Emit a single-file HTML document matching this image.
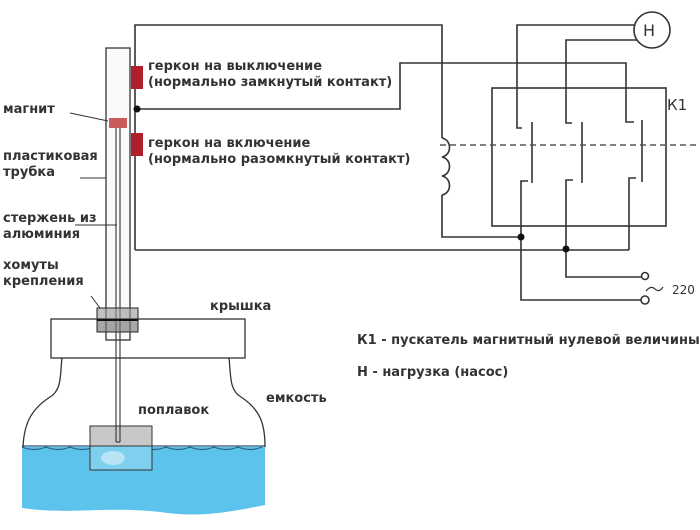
<!DOCTYPE html>
<html><head><meta charset="utf-8"><style>
html,body{margin:0;padding:0;background:#fff;}
svg{display:block}
text{font-family:"DejaVu Sans","Liberation Sans",sans-serif;font-weight:bold;font-size:13px;fill:#333;}
</style></head><body>
<svg width="700" height="530" viewBox="0 0 700 530" xmlns="http://www.w3.org/2000/svg">
<g stroke="#333" stroke-width="1.6" fill="none">
<polyline points="135,250 135,25 442,25 442,138"/>
<path d="M442,138 c10,2 10,17 0,19 c10,2 10,17 0,19 c10,2 10,17 0,19"/>
<polyline points="442,195 442,237 521,237"/>
<polyline points="137,109 400,109 400,63 626,63 626,122 634,122"/>
<polyline points="135,250 629,250"/>
<rect x="492" y="88" width="174" height="138"/>
<circle cx="652" cy="30" r="18"/>
<polyline points="634,25 517,25 517,128 522,128"/>
<polyline points="637,40 566,40 566,123 572,123"/>
<line x1="532" y1="122" x2="532" y2="183"/>
<line x1="582" y1="122" x2="582" y2="183"/>
<line x1="642" y1="120" x2="642" y2="182"/>
<polyline points="528,181 521,181 521,300 641,300"/>
<polyline points="573,180 566,180 566,277 641,277"/>
<polyline points="636,178 629,178 629,250"/>
<circle cx="645" cy="300" r="4"/>
<circle cx="645" cy="276" r="3.5"/>
<path d="M646,291 q5,-6 9,-2 q4,4 8,-2" stroke-width="1.2"/>
<line x1="440" y1="145" x2="700" y2="145" stroke-dasharray="6,4" stroke="#555"/>
</g>
<g fill="#111"><circle cx="137" cy="109" r="3.5"/><circle cx="521" cy="237" r="3.5"/><circle cx="566" cy="249" r="3.5"/></g>
<text x="667" y="110" style="font-weight:normal;font-size:15px">К1</text>
<text x="643" y="36" style="font-weight:normal;font-size:16px">Н</text>
<text x="672" y="294" style="font-weight:normal;font-size:12px">220</text>

<path d="M22,447 L265,447 L265,505 C230,512 200,518 160,512 C110,506 70,515 22,508 Z" fill="#5cc3ec"/>
<path d="M22,447 q12,5 24,0 q12,5 24,0 q12,5 24,0 q12,5 24,0 q12,5 24,0 q12,5 24,0 q12,5 24,0 q12,5 24,0 q12,5 24,0 q12,5 24,0" stroke="#2a6080" stroke-width="1.2" fill="none"/>
<line x1="22" y1="446" x2="265" y2="446" stroke="#2a5070" stroke-width="1.2"/>
<path d="M62,358 C60,375 62,390 50,397 C30,410 24,425 23,447" stroke="#333" stroke-width="1.3" fill="none"/>
<path d="M229,358 C231,375 229,390 241,397 C261,410 265,425 265,447" stroke="#333" stroke-width="1.3" fill="none"/>
<rect x="90" y="426" width="62" height="20" fill="#c8c8c8" stroke="#333" stroke-width="1"/>
<rect x="90" y="446" width="62" height="24" fill="#7fcfee" stroke="#333" stroke-width="1"/>
<ellipse cx="113" cy="458" rx="12" ry="7" fill="#b8e4f6"/>
<rect x="51" y="319" width="194" height="39" fill="#fff" stroke="#333" stroke-width="1.3"/>
<rect x="106" y="48" width="24" height="292" fill="#f6f6f6" fill-opacity="0.6" stroke="#333" stroke-width="1.3"/>
<line x1="116" y1="125" x2="116" y2="442" stroke="#333" stroke-width="1.1"/>
<line x1="120" y1="125" x2="120" y2="442" stroke="#333" stroke-width="1.1"/>
<line x1="116" y1="442" x2="120" y2="442" stroke="#333" stroke-width="1.1"/>
<rect x="97" y="308" width="41" height="11" fill="rgba(150,150,150,0.6)" stroke="#333" stroke-width="1.1"/>
<rect x="97" y="320" width="41" height="12" fill="rgba(120,120,120,0.65)" stroke="#333" stroke-width="1.1"/>
<line x1="97" y1="320" x2="138" y2="320" stroke="#111" stroke-width="2"/>
<rect x="109" y="118" width="18" height="10" fill="#cc5c5c"/>
<rect x="131" y="66" width="12" height="23" fill="#b0202c"/>
<rect x="131" y="133" width="12" height="23" fill="#b0202c"/>
<g stroke="#333" stroke-width="1">
<line x1="70" y1="113" x2="108" y2="121"/>
<line x1="80" y1="178" x2="106" y2="178"/>
<line x1="75" y1="225" x2="117" y2="225"/>
<line x1="91" y1="296" x2="100" y2="308"/>
</g>
<text x="148" y="70">геркон на выключение</text>
<text x="148" y="86">(нормально замкнутый контакт)</text>
<text x="148" y="147">геркон на включение</text>
<text x="148" y="163">(нормально разомкнутый контакт)</text>
<text x="3" y="113">магнит</text>
<text x="3" y="160">пластиковая</text>
<text x="3" y="176">трубка</text>
<text x="3" y="222">стержень из</text>
<text x="3" y="238">алюминия</text>
<text x="3" y="269">хомуты</text>
<text x="3" y="285">крепления</text>
<text x="210" y="310">крышка</text>
<text x="266" y="402">емкость</text>
<text x="138" y="414">поплавок</text>
<text x="357" y="344">К1 - пускатель магнитный нулевой величины</text>
<text x="357" y="376">Н - нагрузка (насос)</text>
</svg>
</body></html>
